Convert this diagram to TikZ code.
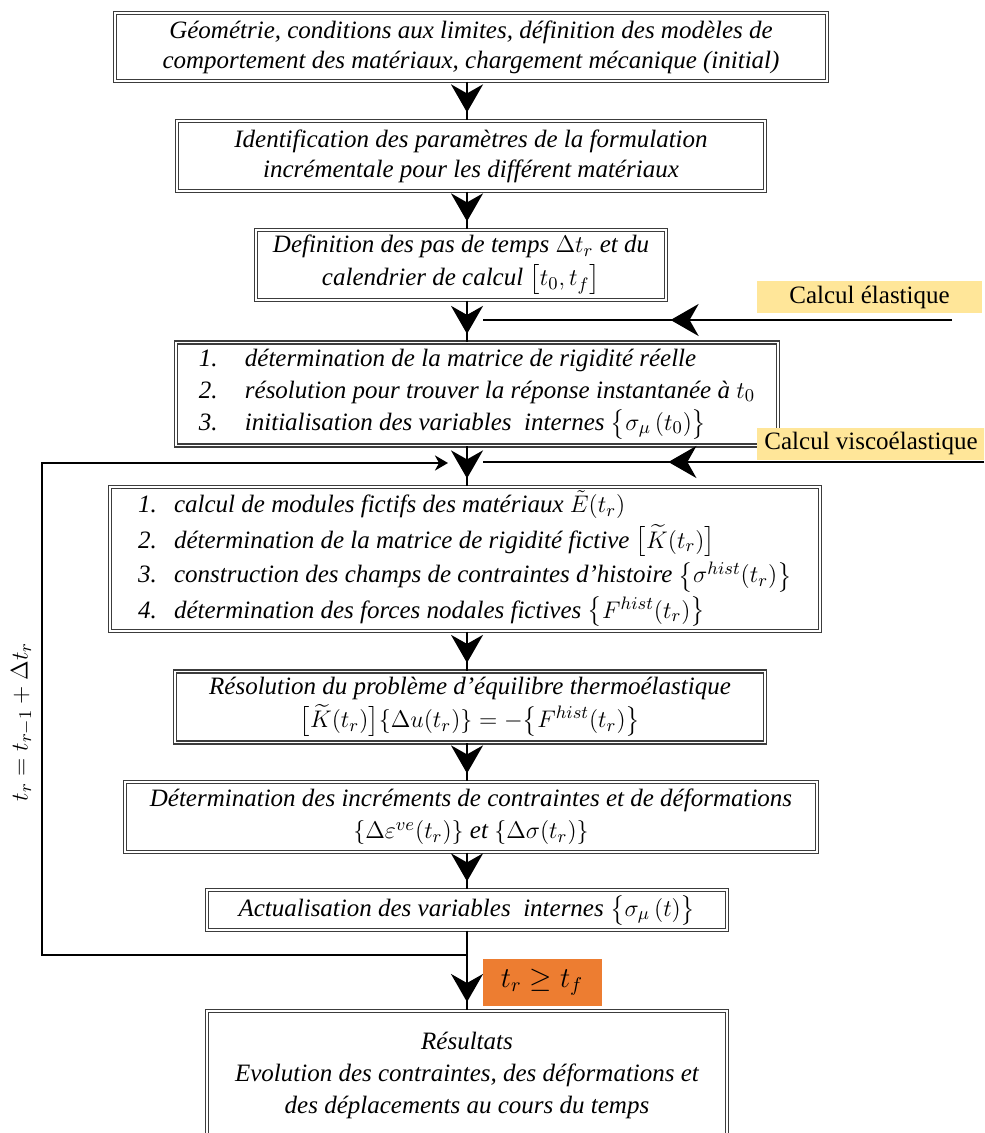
\documentclass[tikz,border=0pt]{standalone}
\usepackage{amsmath,amssymb}
\usepackage{fontspec}
\setmainfont{Liberation Serif}
\usetikzlibrary{arrows.meta, decorations.markings, positioning}
\definecolor{calcjaune}{RGB}{255,230,153}
\definecolor{calcorange}{RGB}{237,125,49}
\definecolor{bordgris}{RGB}{60,60,60}

\begin{document}
\begin{tikzpicture}[
  x=0.5pt, y=-0.5pt,
  every node/.style={font=\fontsize{12.5}{15}\selectfont},
  etape/.style={
    rectangle, draw=bordgris, double=white, double distance=0.9pt,
    line width=0.6pt, fill=white, align=center, inner sep=2pt,
    font=\itshape\fontsize{12.5}{#1}\selectfont
  },
  etape/.default=15,
  liste/.style={
    etape=#1, align=left
  },
  liste/.default=16,
  calcul/.style={
    rectangle, fill=calcjaune, inner sep=2pt,
    minimum height=16pt, font=\fontsize{12.5}{14}\selectfont
  },
  fleche/.style={
    line width=1.2pt, postaction={decorate},
    decoration={markings, mark=at position #1 with
      {\arrow{Stealth[length=14pt,width=16pt,inset=4.5pt]}}}
  },
  fleche/.default=-4pt,
  retour/.style={line width=1.2pt, -{Stealth[length=6.5pt,width=7.5pt,inset=2pt]}}
]
  \clip (0,0) rectangle (984,1133);
  \coordinate (spine) at (467,0);

  % Etapes
  \node[etape, minimum width=356pt, minimum height=34pt] (b1) at (471,47)
    {G\'eom\'etrie, conditions aux limites, d\'efinition des mod\`eles de\\
     comportement des mat\'eriaux, chargement m\'ecanique (initial)};
  \node[etape, minimum width=294pt, minimum height=35pt] (b2) at (471,156)
    {Identification des param\`etres de la formulation\\
     incr\'ementale pour les diff\'erent mat\'eriaux};
  \node[etape=16.5, minimum width=205pt, minimum height=35pt] (b3) at (461,265)
    {Definition des pas de temps $\Delta t_r$ et du\\
     calendrier de calcul $\bigl[t_0, t_f\bigr]$};
  \node[liste, minimum width=301pt, minimum height=51.5pt] (b4) at (477,394)
    {\makebox[23pt][l]{1.}d\'etermination de la matrice de rigidit\'e r\'eelle\\
     \makebox[23pt][l]{2.}r\'esolution pour trouver la r\'eponse instantan\'ee \`a $t_0$\\
     \makebox[23pt][l]{3.}initialisation des variables\ \ internes $\bigl\{\sigma_\mu\,(t_0)\bigr\}$};
  \node[liste=17.5, minimum width=355pt, minimum height=71pt] (b5) at (465,559)
    {\makebox[18pt][l]{1.}calcul de modules fictifs des mat\'eriaux $\tilde{E}(t_r)$\\
     \makebox[18pt][l]{2.}d\'etermination de la matrice de rigidit\'e fictive $\bigl[\widetilde{K}(t_r)\bigr]$\\
     \makebox[18pt][l]{3.}construction des champs de contraintes d’histoire $\bigl\{\sigma^{hist}(t_r)\bigr\}$\\
     \makebox[18pt][l]{4.}d\'etermination des forces nodales fictives $\bigl\{F^{hist}(t_r)\bigr\}$};
  \node[etape=16.5, minimum width=295pt, minimum height=35.5pt] (b6) at (470,707)
    {R\'esolution du probl\`eme d’\'equilibre thermo\'elastique\\
     $\bigl[\widetilde{K}(t_r)\bigr]\{\Delta u(t_r)\} = -\bigl\{F^{hist}(t_r)\bigr\}$};
  \node[etape=16, minimum width=346pt, minimum height=35pt] (b7) at (471,817)
    {D\'etermination des incr\'ements de contraintes et de d\'eformations\\
     $\{\Delta\varepsilon^{ve}(t_r)\}$ et $\{\Delta\sigma(t_r)\}$};
  \node[etape, minimum width=260pt, minimum height=20pt] (b8) at (467,910)
    {Actualisation des variables\ \ internes $\bigl\{\sigma_\mu\,(t)\bigr\}$};
  \node[etape=16, minimum width=260pt, minimum height=65pt, anchor=north] (b9) at (467,1010)
    {R\'esultats\\
     Evolution des contraintes, des d\'eformations et\\
     des d\'eplacements au cours du temps};

  % Fleches principales
  \foreach \from/\to in {b1/b2, b2/b3, b3/b4, b4/b5, b5/b6, b6/b7, b7/b8, b8/b9} {
    \draw[fleche] (\from.south -| spine) -- (\to.north -| spine);
  }

  % Calcul elastique
  \node[calcul, minimum width=112.5pt] (elas) at (869.5,297) {Calcul \'elastique};
  \coordinate (elasdep) at (952,320);
  \coordinate (elasfin) at (483,320);
  \draw[fleche=0.6] (elasdep) -- (elasfin);

  % Calcul viscoelastique
  \node[calcul, minimum width=114pt] (visco) at (871,443.5) {Calcul visco\'elastique};
  \coordinate (viscodep) at (984,462);
  \coordinate (viscofin) at (483,462);
  \draw[fleche=0.63] (viscodep) -- (viscofin);

  % Boucle sur les pas de temps
  \coordinate (jonction) at (spine |- 0,955);
  \coordinate (arrivee) at (448,463);
  \draw[retour] (jonction) -- (42,955) -- (42,463) -- (arrivee);
  \node[rotate=90, font=\fontsize{12.5}{14}\selectfont] (pas) at (22,722)
    {$t_r = t_{r-1} + \Delta t_r$};

  % Condition d'arret
  \node[fill=calcorange, minimum width=59.5pt, minimum height=23.5pt,
        font=\fontsize{14}{16}\selectfont] (arret) at (542,982) {$t_r \geq t_f$};
\end{tikzpicture}
\end{document}
